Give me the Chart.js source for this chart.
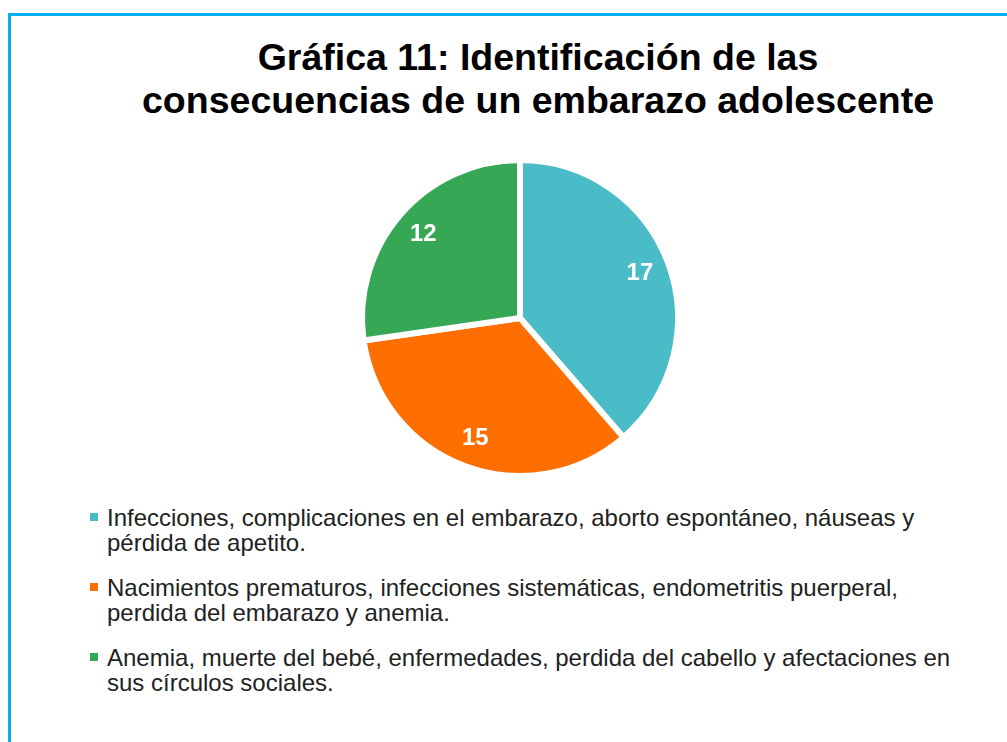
<!DOCTYPE html>
<html>
<head>
<meta charset="utf-8">
<script src="https://cdn.jsdelivr.net/npm/chart.js@4.4.1/dist/chart.umd.min.js"></script>
<style>
  body { margin: 0; background: #fff; overflow: hidden; font-family: "Liberation Sans", Arial, sans-serif; }
  #frame { position: absolute; left: 8px; top: 13px; width: 1100px; height: 800px;
           border-top: 3px solid #00B0F0; border-left: 3px solid #00B0F0; }
  #title { position: absolute; left: 0; top: 35.5px; width: 1076px; text-align: center;
           font-size: 37.5px; font-weight: bold; line-height: 43px; color: #000; }
  #wrap { position: absolute; left: 0; top: 0; width: 1076px; height: 490px; }
  #legend { position: absolute; left: 90px; top: 505px; font-size: 24px; color: #222; }
  .item { display: flex; align-items: flex-start; margin-bottom: 20px; line-height: 25px; }
  .box { width: 8px; height: 8px; margin: 8px 9px 0 0; flex: none; }
  .txt { white-space: nowrap; }
</style>
</head>
<body>
<div id="frame"></div>
<div id="title"></div>
<div id="wrap"><canvas id="pieChart"></canvas></div>
<div id="legend"></div>
<script>
// Chart data
const titleLines = ["Gráfica 11: Identificación de las", "consecuencias de un embarazo adolescente"];
const categories = [
    ["Infecciones, complicaciones en el embarazo, aborto espontáneo, náuseas y", "pérdida de apetito."],
    ["Nacimientos prematuros, infecciones sistemáticas, endometritis puerperal,", "perdida del embarazo y anemia."],
    ["Anemia, muerte del bebé, enfermedades, perdida del cabello y afectaciones en", "sus círculos sociales."]
];
const values = [17, 15, 12];
const colors = ['#4ABCC7', '#FF6E00', '#36A755'];

// white value labels inside the slices
const valueLabels = {
    id: 'valueLabels',
    afterDatasetsDraw(chart) {
        const ctx = chart.ctx;
        const meta = chart.getDatasetMeta(0);
        ctx.save();
        ctx.fillStyle = '#fff';
        ctx.font = 'bold 24px "Liberation Sans", Arial, sans-serif';
        ctx.textAlign = 'center';
        ctx.textBaseline = 'middle';
        meta.data.forEach((arc, i) => {
            const p = arc.getProps(['x', 'y', 'startAngle', 'endAngle', 'outerRadius']);
            const mid = (p.startAngle + p.endAngle) / 2;
            const r = p.outerRadius * 0.81;
            ctx.fillText(String(values[i]), p.x + Math.cos(mid) * r, p.y + Math.sin(mid) * r);
        });
        ctx.restore();
    }
};

function renderPieChart() {
    document.getElementById('title').innerHTML = titleLines.join('<br>');

    const ctx = document.getElementById('pieChart').getContext('2d');
    const chart = new Chart(ctx, {
        type: 'pie',
        data: {
            labels: categories,
            datasets: [{
                data: values,
                backgroundColor: colors,
                borderColor: '#ffffff',
                borderWidth: 6
            }]
        },
        options: {
            responsive: true,
            maintainAspectRatio: false,
            animation: false,
            layout: { padding: { left: 0, right: 36, top: 157, bottom: 11 } },
            plugins: {
                legend: { display: false },
                tooltip: { enabled: false }
            }
        },
        plugins: [valueLabels]
    });

    // HTML legend (multi-line labels)
    const items = chart.options.plugins.legend.labels.generateLabels(chart);
    const legend = document.getElementById('legend');
    items.forEach((it, i) => {
        const row = document.createElement('div');
        row.className = 'item';
        const box = document.createElement('span');
        box.className = 'box';
        box.style.background = it.fillStyle;
        const txt = document.createElement('span');
        txt.className = 'txt';
        txt.innerHTML = categories[i].join('<br>');
        row.appendChild(box);
        row.appendChild(txt);
        legend.appendChild(row);
    });
}

renderPieChart();
</script>
</body>
</html>
